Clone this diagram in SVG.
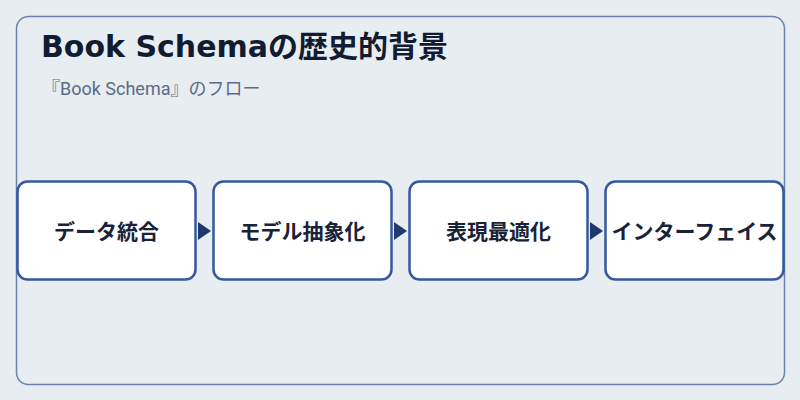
<svg xmlns="http://www.w3.org/2000/svg" width="800" height="400" viewBox="0 0 800 400">
<style>
.title{font-family:"DejaVu Sans","Noto Sans CJK JP",sans-serif;font-weight:700;font-size:30px;fill:#111c30}
.sub{font-family:Roboto,"Noto Sans CJK JP",sans-serif;font-size:18px;fill:#5b6b88}
.box{fill:#ffffff;stroke:#3558a0;stroke-width:2.5}
.lbl{font-family:"Noto Sans CJK JP","Noto Sans",sans-serif;font-weight:700;font-size:21px;fill:#1a2238;text-anchor:middle}
.arr{fill:#1e3a6e}
</style>
<rect width="800" height="400" fill="#e8edf2"/>
<rect x="16.5" y="16.5" width="768" height="368" rx="12" fill="#e8edf2" stroke="#6b82ad" stroke-width="1.5"/>
<text class="title" x="41" y="57">Book Schemaの歴史的背景</text>
<text class="sub" x="42" y="95">『Book Schema』のフロー</text>
<g id="connectors">
<polygon class="arr" points="198,222 211,231 198,240"/>
<polygon class="arr" points="394,222 407,231 394,240"/>
<polygon class="arr" points="590,222 603,231 590,240"/>
</g>
<g id="node1"><rect class="box" x="17.5" y="181.5" width="178" height="98" rx="10"/><text class="lbl" x="106.5" y="239">データ統合</text></g>
<g id="node2"><rect class="box" x="213.5" y="181.5" width="178" height="98" rx="10"/><text class="lbl" x="302.5" y="239">モデル抽象化</text></g>
<g id="node3"><rect class="box" x="409.5" y="181.5" width="178" height="98" rx="10"/><text class="lbl" x="498.5" y="239">表現最適化</text></g>
<g id="node4"><rect class="box" x="605.5" y="181.5" width="178" height="98" rx="10"/><text class="lbl" x="694.5" y="239">インターフェイス</text></g>
</svg>
